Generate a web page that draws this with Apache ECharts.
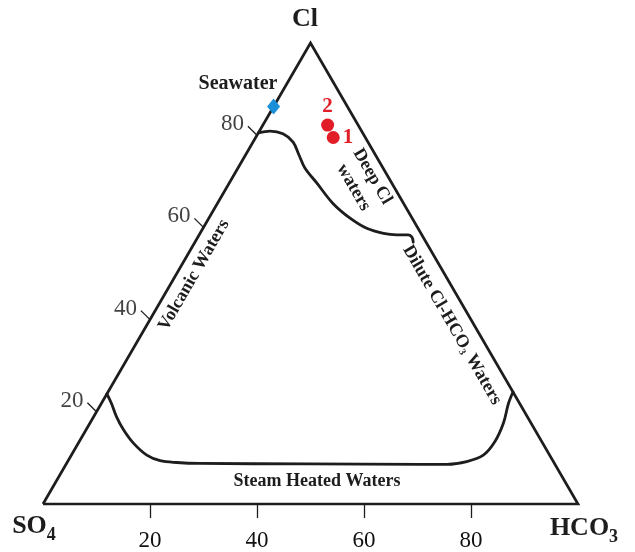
<!DOCTYPE html>
<html><head><meta charset="utf-8">
<script src="https://cdn.jsdelivr.net/npm/echarts@6/dist/echarts.min.js"></script>
<style>html,body{margin:0;padding:0;background:#fff}#c{width:635px;height:552px}</style>
</head><body><div id="c"></div>
<script>
// Ternary data, each point given as [Cl %, HCO3 %]; SO4 % = 100 - Cl - HCO3
const vertices = [[0, 0], [100, 0], [0, 100], [0, 0]];           // SO4, Cl, HCO3 corners
const seawater = [[86.2, 0]];
const sampleNames = ['1', '2'];
const samples = [[79.5, 14.5], [82.2, 12.1]];
const deepClBoundary = [[80.5,0],[80.9,2.0],[80.3,4.7],[78.5,7.5],[75.7,10.0],[72.9,12.5],[69.6,16.4],[65.2,21.6],[62.0,26.4],[59.8,30.6],[58.7,34.3],[58.4,36.9],[58.4,39.1],[57.9,40.0],[56.8,40.8]];
const steamBoundary = [[23.9,0],[21.8,1.9],[18.9,4.3],[16.1,7.0],[13.2,10.3],[10.6,14.1],[9.4,17.2],[9.0,20.5],[8.8,24.9],[8.7,45],[8.6,66.2],[8.6,71.2],[9.2,74.6],[10.6,77.0],[13.5,77.7],[17.5,77.3],[21.8,76.1],[24.3,75.7]];
const clTicks = [20, 40, 60, 80];
const baseTicks = [20, 40, 60, 80];

const INK = '#1e1c1d';
const SERIF = '"Liberation Serif", "Times New Roman", serif';
// ternary -> cartesian (x = HCO3 + Cl/2, y = Cl), both axes 0..100
const toXY = p => [p[1] + p[0] / 2, p[0]];

const chart = echarts.init(document.getElementById('c'), null, {renderer: 'canvas'});

const ctx = document.createElement('canvas').getContext('2d');
function measure(text, font) { ctx.font = font; return ctx.measureText(text).width; }
// build a (possibly rotated) group of text pieces centred at (cx, cy)
function textGroup(cx, cy, rotation, pieces) {
  let total = 0;
  pieces.forEach(p => { p.w = measure(p.text, p.font); total += p.w; });
  let x = -total / 2;
  const children = pieces.map(p => {
    const el = {type: 'text', x: x, y: p.dy || 0,
      style: {text: p.text, font: p.font, fill: p.fill || INK, textAlign: 'left', textVerticalAlign: 'middle'}};
    x += p.w;
    return el;
  });
  return {type: 'group', x: cx, y: cy, rotation: rotation, children: children};
}
const B = s => 'bold ' + s + 'px ' + SERIF;
const R = s => s + 'px ' + SERIF;

const tickLen = [-1.7, 1.95]; // outward offset of the left-edge ticks (data units)
const tickSeries = clTicks.map(v => {
  const e = toXY([v, 0]);
  return {type: 'line', data: [e, [e[0] + tickLen[0], e[1] + tickLen[1]]], symbol: 'none', clip: false,
    lineStyle: {color: INK, width: 1.3}, silent: true, z: 3};
});

const lineBase = {type: 'line', symbol: 'none', clip: false, silent: true, lineStyle: {color: INK, width: 2.8, join: 'round', cap: 'round'}};

chart.setOption({
  animation: false,
  grid: {left: 43, right: 57, top: 43, bottom: 48},
  xAxis: {type: 'value', min: 0, max: 100, interval: 20,
    axisLine: {show: false}, splitLine: {show: false},
    axisTick: {show: true, customValues: baseTicks, length: 14, lineStyle: {color: INK, width: 1.3}},
    axisLabel: {show: true, customValues: baseTicks, margin: 25, fontSize: 23, fontFamily: SERIF, color: '#111'}},
  yAxis: {type: 'value', min: 0, max: 100, show: false},
  series: [
    Object.assign({}, lineBase, {data: vertices.map(toXY), lineStyle: {color: INK, width: 2.7, join: 'miter'}}),
    Object.assign({}, lineBase, {data: deepClBoundary.map(toXY), smooth: 0.35}),
    Object.assign({}, lineBase, {data: steamBoundary.map(toXY), smooth: 0.35}),
    ...tickSeries,
    {type: 'scatter', symbolSize: 0, clip: false, silent: true,
      data: clTicks.map(v => { const e = toXY([v, 0]); return {value: [e[0] + tickLen[0], e[1] + tickLen[1]], name: String(v)}; }),
      label: {show: true, position: 'left', distance: 4, offset: [0, -2], formatter: p => p.name, fontSize: 23, fontFamily: SERIF, color: '#111'}},
    {type: 'scatter', symbol: 'diamond', symbolSize: [13, 16], clip: false, silent: true,
      itemStyle: {color: '#1b8fd8', opacity: 1}, data: seawater.map(toXY), z: 5},
    {type: 'scatter', symbol: 'circle', symbolSize: 13, clip: false, silent: true, z: 5,
      itemStyle: {color: '#e11d27', opacity: 1},
      data: samples.map((p, i) => ({value: toXY(p), name: sampleNames[i],
        label: {position: i === 0 ? 'right' : 'top', distance: i === 0 ? 3 : 1}})),
      label: {show: true, formatter: p => p.name, fontSize: 21, fontWeight: 'bold', fontFamily: SERIF, color: '#e11d27'}}
  ],
  graphic: [
    textGroup(305, 19, 0, [{text: 'Cl', font: B(26)}]),
    textGroup(34, 526, 0, [{text: 'SO', font: B(26)}, {text: '4', font: B(18), dy: 9}]),
    textGroup(584, 528, 0, [{text: 'HCO', font: B(26)}, {text: '3', font: B(18), dy: 9}]),
    textGroup(238, 84, 0, [{text: 'Seawater', font: B(20)}]),
    textGroup(317, 481, 0, [{text: 'Steam Heated Waters', font: B(18)}]),
    textGroup(194, 275, Math.PI / 3, [{text: 'Volcanic Waters', font: B(18)}]),
    textGroup(452, 325, -Math.PI / 3, [{text: 'Dilute Cl-HCO', font: B(18)}, {text: '3', font: B(10), dy: 5}, {text: ' Waters', font: B(18)}]),
    {type: 'group', x: 363, y: 182, rotation: -Math.PI / 3, children: [
      {type: 'text', x: 0, y: -11, style: {text: 'Deep Cl', font: B(18), fill: INK, textAlign: 'center', textVerticalAlign: 'middle'}},
      {type: 'text', x: 0, y: 11, style: {text: 'waters', font: B(18), fill: INK, textAlign: 'center', textVerticalAlign: 'middle'}}
    ]}
  ]
});
</script></body></html>
